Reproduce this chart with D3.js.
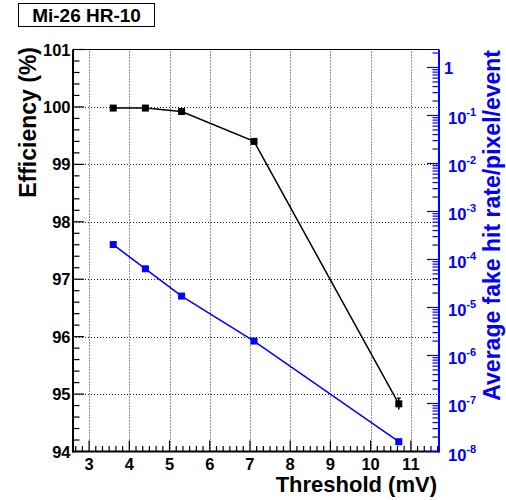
<!DOCTYPE html>
<html>
<head>
<meta charset="utf-8">
<script src="https://cdn.jsdelivr.net/npm/d3@7"></script>
<style>
  html, body { margin: 0; padding: 0; background: #fff; }
  svg { display: block; }
  text { font-family: "Liberation Sans", Arial, Helvetica, sans-serif; font-weight: bold; }
</style>
</head>
<body>
<svg id="chart" width="506" height="500"></svg>
<script>
// Threshold scan of the Mi-26 sensor (HR-10)
const thresholds   = [3.6, 4.4, 5.3, 7.1, 10.7];          // mV
const thresholdErr = [0.05, 0.05, 0.05, 0.05, 0.05];
const efficiency   = [99.98, 99.98, 99.92, 99.40, 94.83]; // %
const efficiencyErr = [0.01, 0.01, 0.015, 0.02, 0.1];
const fakeRate     = [2.05e-4, 6.4e-5, 1.73e-5, 2.0e-6, 1.6e-8]; // hits/pixel/event
const fakeRateErr  = [4e-6, 1.2e-6, 4e-7, 5e-8, 1e-9];

const xTicks   = [3, 4, 5, 6, 7, 8, 9, 10, 11];
const effTicks = [94, 95, 96, 97, 98, 99, 100, 101];
const rateExponents = [0, -1, -2, -3, -4, -5, -6, -7, -8];

const svg = d3.select("#chart");
const L = 73, R = 439, T = 49.5, B = 451.5;

const x = d3.scaleLinear().domain([2.6, 11.7]).range([L, R]);
const yEff = d3.scaleLinear().domain([94, 101]).range([B, T]);
const yRate = d3.scaleLog().domain([1e-8, 2.37]).range([B, T]);

// grid
const grid = svg.append("g").attr("stroke", "#222").attr("stroke-width", 1)
  .attr("stroke-dasharray", "1,2").attr("fill", "none");
xTicks.forEach(v => grid.append("line")
  .attr("x1", Math.round(x(v)) + 0.5).attr("x2", Math.round(x(v)) + 0.5)
  .attr("y1", B).attr("y2", T));
effTicks.filter(v => v > 94 && v < 101).forEach(v => grid.append("line")
  .attr("x1", L).attr("x2", R)
  .attr("y1", Math.round(yEff(v)) + 0.5).attr("y2", Math.round(yEff(v)) + 0.5));

// top frame line
svg.append("line").attr("x1", L).attr("x2", R).attr("y1", T).attr("y2", T)
  .attr("stroke", "#000").attr("stroke-width", 1.2);

// bottom axis
const xAxisG = svg.append("g");
const xMinor = [];
for (let v = 3 - 2/6; v <= 11.7; v += 1/6) {
  const r = Math.round(v * 6) / 6;
  if (Math.abs(r - Math.round(r)) > 1e-6 && r > 2.6) xMinor.push(r);
}
xAxisG.selectAll("line.minor").data(xMinor).join("line")
  .attr("x1", d => x(d)).attr("x2", d => x(d)).attr("y1", B).attr("y2", B - 5.5)
  .attr("stroke", "#000").attr("stroke-width", 1.2);
xAxisG.selectAll("line.major").data(xTicks).join("line")
  .attr("x1", d => x(d)).attr("x2", d => x(d)).attr("y1", B).attr("y2", B - 11)
  .attr("stroke", "#000").attr("stroke-width", 1.2);
xAxisG.selectAll("text").data(xTicks).join("text")
  .attr("x", d => x(d)).attr("y", 470).attr("text-anchor", "middle")
  .attr("font-size", 16.5).text(d => d);
xAxisG.append("line").attr("x1", L - 1).attr("x2", R).attr("y1", B).attr("y2", B)
  .attr("stroke", "#000").attr("stroke-width", 2);

// left axis
const yAxisG = svg.append("g");
const effMinor = d3.range(94, 101.001, 0.2).map(v => Math.round(v * 10) / 10)
  .filter(v => Math.abs(v - Math.round(v)) > 1e-6);
yAxisG.selectAll("line.minor").data(effMinor).join("line")
  .attr("x1", L).attr("x2", L + 6.5).attr("y1", d => yEff(d)).attr("y2", d => yEff(d))
  .attr("stroke", "#000").attr("stroke-width", 1.2);
yAxisG.selectAll("line.major").data(effTicks).join("line")
  .attr("x1", L).attr("x2", L + 11).attr("y1", d => yEff(d)).attr("y2", d => yEff(d))
  .attr("stroke", "#000").attr("stroke-width", 1.2);
yAxisG.selectAll("text").data(effTicks).join("text")
  .attr("x", 70.5).attr("y", d => yEff(d) + 6).attr("text-anchor", "end")
  .attr("font-size", 16.5).text(d => d);
yAxisG.append("line").attr("x1", L).attr("x2", L).attr("y1", T).attr("y2", B + 1)
  .attr("stroke", "#000").attr("stroke-width", 2);

// right (log) axis
const blue = "#0000ff";
const rAxisG = svg.append("g");
const rateMinor = [];
for (let e = -8; e <= 0; e++) {
  for (let k = 2; k <= 9; k++) {
    const v = k * Math.pow(10, e);
    if (v <= 2.37) rateMinor.push(v);
  }
}
rAxisG.selectAll("line.minor").data(rateMinor).join("line")
  .attr("x1", R).attr("x2", R - 6.5).attr("y1", d => yRate(d)).attr("y2", d => yRate(d))
  .attr("stroke", blue).attr("stroke-width", 1.2);
rAxisG.selectAll("line.major").data(rateExponents).join("line")
  .attr("x1", R).attr("x2", R - 12).attr("y1", d => yRate(Math.pow(10, d))).attr("y2", d => yRate(Math.pow(10, d)))
  .attr("stroke", blue).attr("stroke-width", 1.2);
rateExponents.forEach(e => {
  const ty = yRate(Math.pow(10, e));
  if (e === 0) {
    rAxisG.append("text").attr("x", 444).attr("y", ty + 6.5)
      .attr("fill", blue).attr("font-size", 16.5).text("1");
  } else {
    const t = rAxisG.append("text").attr("x", 448).attr("y", ty + 9)
      .attr("fill", blue).attr("font-size", 16.5);
    t.append("tspan").text("10");
    t.append("tspan").attr("font-size", 11).attr("dy", -8).text(e);
  }
});
rAxisG.append("line").attr("x1", R).attr("x2", R).attr("y1", T).attr("y2", B + 1)
  .attr("stroke", blue).attr("stroke-width", 2);

// axis titles
svg.append("text").attr("transform", "translate(36,47) rotate(-90)")
  .attr("text-anchor", "end").attr("font-size", 23).attr("fill", "#000")
  .text("Efficiency (%)");
svg.append("text").attr("transform", "translate(500,50) rotate(-90)")
  .attr("text-anchor", "end").attr("font-size", 23).attr("fill", blue)
  .text("Average fake hit rate/pixel/event");
svg.append("text").attr("x", 437).attr("y", 492)
  .attr("text-anchor", "end").attr("font-size", 22).attr("fill", "#000")
  .text("Threshold (mV)");

// data series
function drawSeries(yScale, vals, errs, color) {
  const pts = thresholds.map((t, i) => ({ t, v: vals[i], ex: thresholdErr[i], ey: errs[i] }));
  const g = svg.append("g");
  g.append("path").datum(pts)
    .attr("d", d3.line().x(d => x(d.t)).y(d => yScale(d.v)))
    .attr("fill", "none").attr("stroke", color).attr("stroke-width", 1.5);
  // horizontal error bars
  g.selectAll("line.ex").data(pts).join("line")
    .attr("x1", d => x(d.t - d.ex)).attr("x2", d => x(d.t + d.ex))
    .attr("y1", d => yScale(d.v)).attr("y2", d => yScale(d.v))
    .attr("stroke", color).attr("stroke-width", 1.5);
  // vertical error bars with caps
  g.selectAll("line.ey").data(pts).join("line")
    .attr("x1", d => x(d.t)).attr("x2", d => x(d.t))
    .attr("y1", d => yScale(d.v - d.ey)).attr("y2", d => yScale(d.v + d.ey))
    .attr("stroke", color).attr("stroke-width", 1.5);
  g.selectAll("line.cap").data(pts.filter(d => Math.abs(yScale(d.v + d.ey) - yScale(d.v)) > 4)).join("line")
    .attr("x1", d => x(d.t) - 2).attr("x2", d => x(d.t) + 2)
    .attr("y1", d => yScale(d.v + d.ey)).attr("y2", d => yScale(d.v + d.ey))
    .attr("stroke", color).attr("stroke-width", 1.2);
  g.selectAll("rect").data(pts).join("rect")
    .attr("x", d => x(d.t) - 3.5).attr("y", d => yScale(d.v) - 3.5)
    .attr("width", 7).attr("height", 7).attr("fill", color);
}
drawSeries(yEff, efficiency, efficiencyErr, "#000");
drawSeries(yRate, fakeRate, fakeRateErr, blue);

// label box
svg.append("rect").attr("x", 18.5).attr("y", 3.5).attr("width", 136).attr("height", 23)
  .attr("fill", "#fff").attr("stroke", "#000").attr("stroke-width", 1);
svg.append("text").attr("x", 86.5).attr("y", 21.5).attr("text-anchor", "middle")
  .attr("font-size", 19).attr("fill", "#000").text("Mi-26 HR-10");
</script>
</body>
</html>
